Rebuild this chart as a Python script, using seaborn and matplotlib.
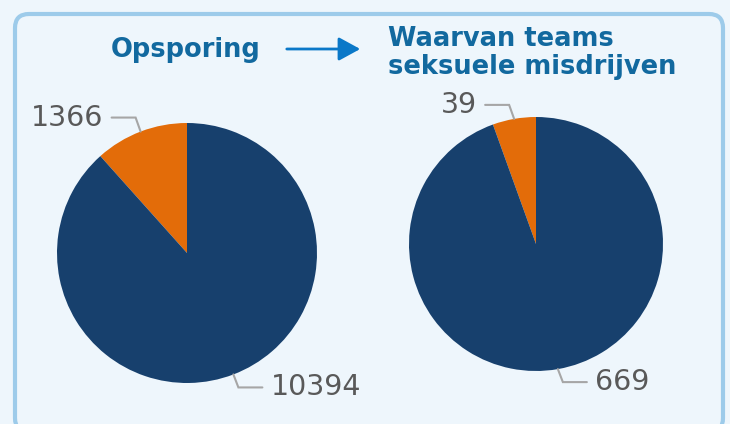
import numpy as np
import matplotlib
matplotlib.use("Agg")
import matplotlib.pyplot as plt
import seaborn as sns
from matplotlib.patches import FancyBboxPatch

# Datos de los dos diagramas de sectores
categorias = ["Overig", "Hoofd"]
opsporing = [1366, 10394]
teams_zeden = [39, 669]
titulo_izq = "Opsporing"
titulo_der = "Waarvan teams\nseksuele misdrijven"

colores = ["#E36C09", "#17406D"]
fondo = "#EEF6FC"
gris_texto = "#595959"
gris_linea = "#A6A6A6"
azul_titulo = "#12699F"

sns.set_theme(style="white")
plt.rcParams['font.family'] = ['DejaVu Sans']

fig = plt.figure(figsize=(7.3, 4.24), dpi=100, facecolor=fondo)
ax = fig.add_axes([0, 0, 1, 1])
ax.set_facecolor(fondo)

# Marco redondeado
marco = FancyBboxPatch((15, -8), 708, 418, boxstyle="round,pad=0,rounding_size=14",
                       linewidth=3, edgecolor="#9DCBEA", facecolor=fondo, zorder=0)
ax.add_patch(marco)


def dibujar_pie(valores, centro, radio):
    wedges, _ = ax.pie(valores, colors=colores, startangle=90, counterclock=True,
                       center=centro, radius=radio, frame=True,
                       wedgeprops=dict(linewidth=0))
    for w, v in zip(wedges, valores):
        ang = np.deg2rad((w.theta1 + w.theta2) / 2)
        x0 = centro[0] + radio * np.cos(ang)
        y0 = centro[1] + radio * np.sin(ang)
        s = 1 if np.cos(ang) >= 0 else -1
        dy = 14 if np.sin(ang) >= 0 else -13
        x1, y1 = x0 + s * 5, y0 + dy
        x2 = x1 + s * 24
        ax.plot([x0, x1, x2], [y0, y1, y1], color=gris_linea, lw=1.5,
                solid_joinstyle="miter", zorder=3)
        ax.text(x2 + s * 8, y1, str(v), ha="left" if s > 0 else "right",
                va="center", fontsize=20.5, color=gris_texto)


dibujar_pie(opsporing, (187, 171), 130)
dibujar_pie(teams_zeden, (536, 180), 127)
ax.set_xlim(0, 730)
ax.set_ylim(0, 424)
ax.set_aspect("equal")
ax.axis("off")

# Titulos y flecha
ax.text(186, 374, titulo_izq, ha="center", va="center", fontsize=18.5,
        fontweight="bold", color=azul_titulo)
ax.text(388, 371, titulo_der, ha="left", va="center", fontsize=18.5,
        fontweight="bold", color=azul_titulo, linespacing=1.12)
ax.annotate("", xy=(363, 375), xytext=(284, 375),
            arrowprops=dict(arrowstyle="-|>,head_length=1.1,head_width=0.6",
                            color="#0A78C8", lw=2))

fig.savefig("out.png", dpi=100, facecolor=fondo)
